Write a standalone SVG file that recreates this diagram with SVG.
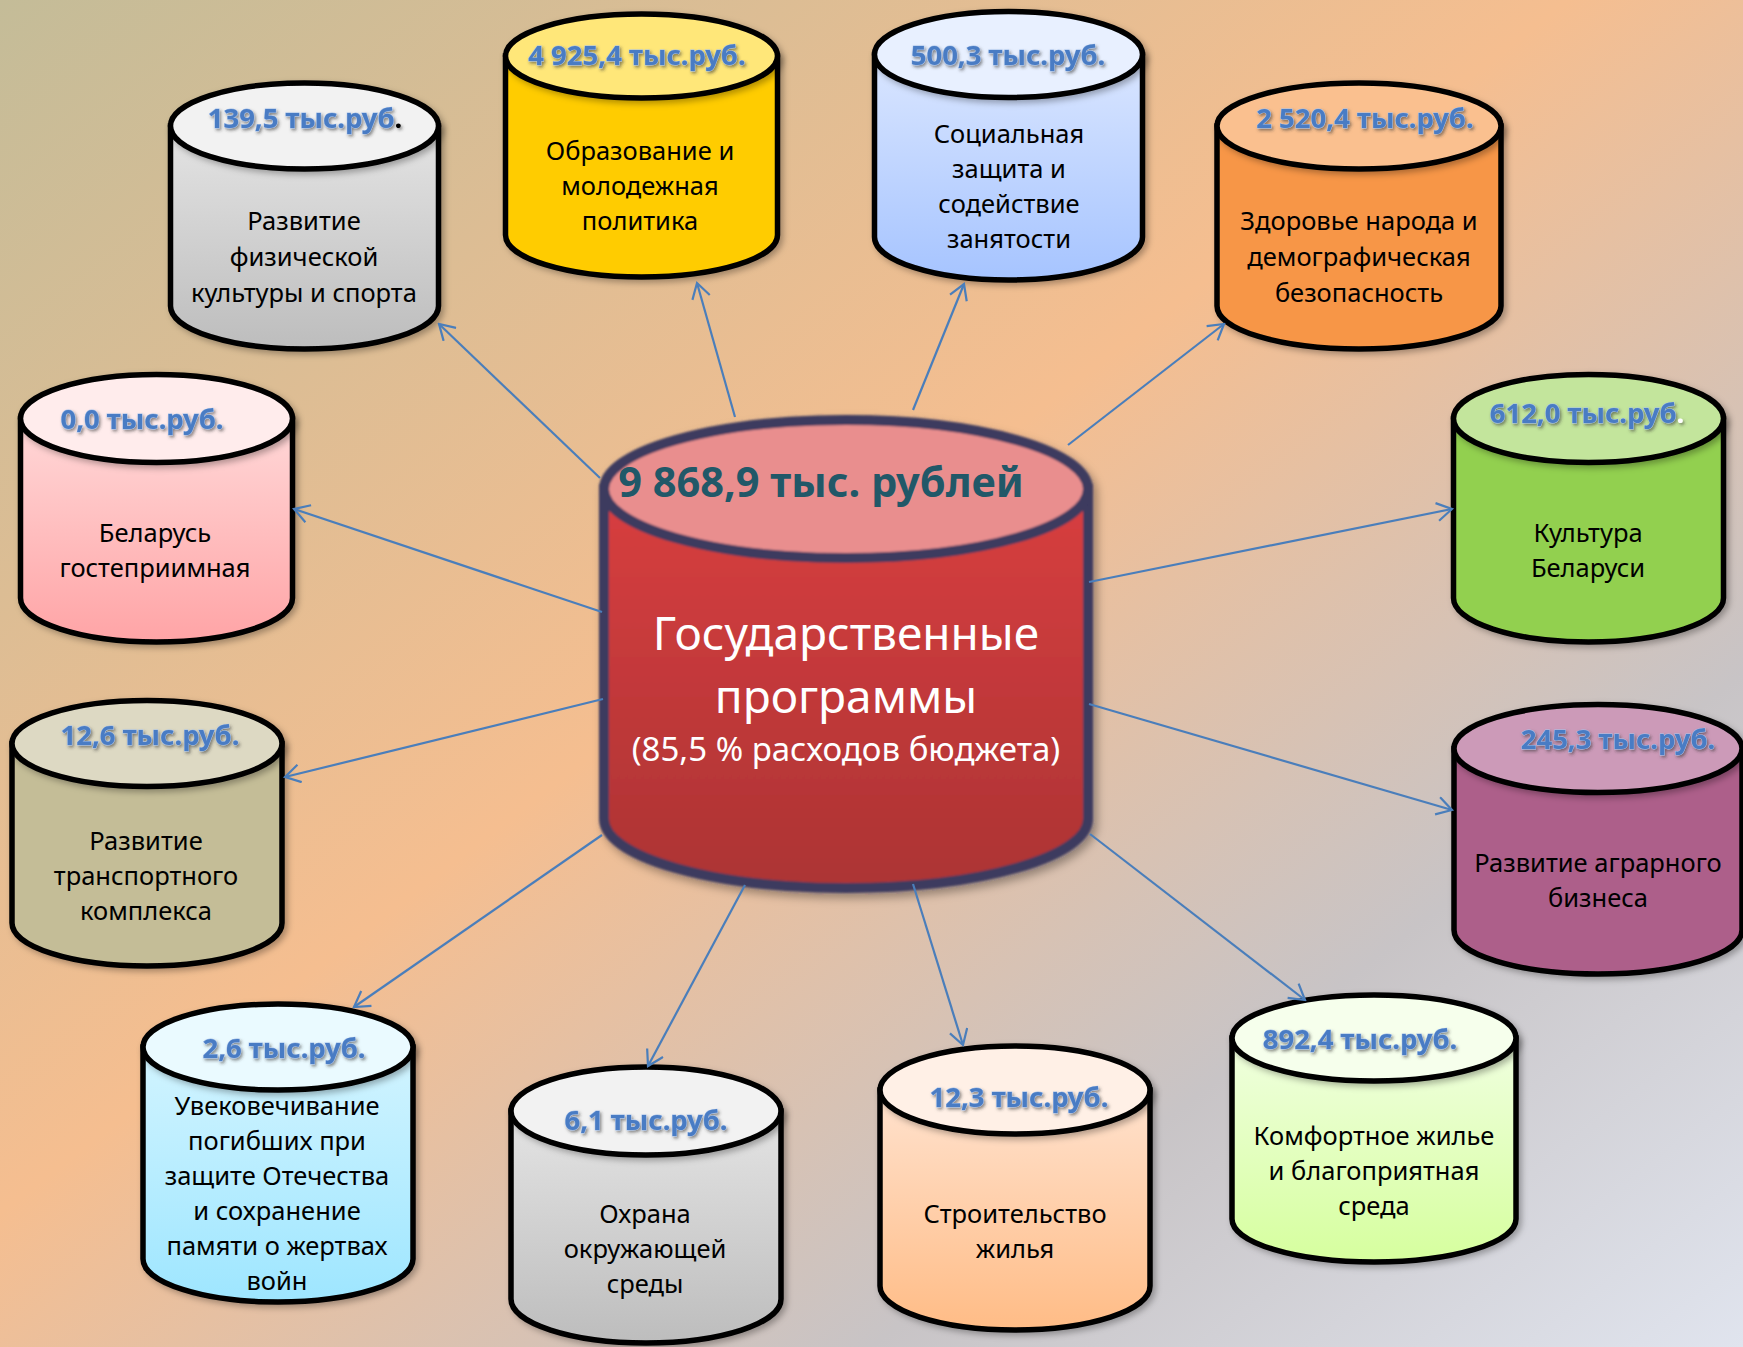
<svg xmlns="http://www.w3.org/2000/svg" width="1743" height="1347" viewBox="0 0 1743 1347">
<defs>
<linearGradient id="bg" x1="0" y1="0" x2="1" y2="1">
<stop offset="0" stop-color="#c4bc98"/>
<stop offset="0.45" stop-color="#f5be90"/>
<stop offset="0.75" stop-color="#c8c4c6"/>
<stop offset="1" stop-color="#e0e4ee"/>
</linearGradient>
<linearGradient id="gGray" x1="0" y1="0" x2="0" y2="1"><stop offset="0" stop-color="#e4e4e4"/><stop offset="1" stop-color="#bdbdbd"/></linearGradient>
<linearGradient id="gBlue" x1="0" y1="0" x2="0" y2="1"><stop offset="0" stop-color="#dae6ff"/><stop offset="1" stop-color="#a6c4ff"/></linearGradient>
<linearGradient id="gPink" x1="0" y1="0" x2="0" y2="1"><stop offset="0" stop-color="#ffd8d8"/><stop offset="1" stop-color="#ffa4a6"/></linearGradient>
<linearGradient id="gCyan" x1="0" y1="0" x2="0" y2="1"><stop offset="0" stop-color="#d2f4ff"/><stop offset="1" stop-color="#9ee6ff"/></linearGradient>
<linearGradient id="gPeach" x1="0" y1="0" x2="0" y2="1"><stop offset="0" stop-color="#ffe2ce"/><stop offset="1" stop-color="#ffbc86"/></linearGradient>
<linearGradient id="gLime" x1="0" y1="0" x2="0" y2="1"><stop offset="0" stop-color="#f0ffe0"/><stop offset="1" stop-color="#d6ff9e"/></linearGradient>
<linearGradient id="gRed" x1="0" y1="0" x2="0" y2="1"><stop offset="0" stop-color="#d83e40"/><stop offset="1" stop-color="#ac3434"/></linearGradient>
<filter id="sh" x="-10%" y="-10%" width="125%" height="125%"><feDropShadow dx="3" dy="3" stdDeviation="3" flood-color="#000" flood-opacity="0.3"/></filter>
<filter id="shc" x="-10%" y="-10%" width="125%" height="125%"><feGaussianBlur in="SourceGraphic" stdDeviation="1.2" result="b"/><feDropShadow in="b" dx="4" dy="5" stdDeviation="5" flood-color="#000" flood-opacity="0.35"/></filter>
<filter id="tsh" x="-10%" y="-30%" width="125%" height="170%"><feDropShadow dx="1.5" dy="2" stdDeviation="1.5" flood-color="#333" flood-opacity="0.55"/></filter>
<marker id="ah" viewBox="0 0 20 20" markerWidth="20" markerHeight="20" refX="18" refY="10" orient="auto" markerUnits="userSpaceOnUse">
<path d="M3,1 L18,10 L3,19" fill="none" stroke="#4a7ebb" stroke-width="2.2"/>
</marker>
</defs>
<style>
.cyl{stroke:#000;stroke-width:5.5;filter:url(#sh)}
.val{font-family:"Noto Sans","DejaVu Sans",sans-serif;font-weight:bold;font-size:27.5px;fill:#4a7cc4;stroke:#a9c4ec;stroke-width:0.8;paint-order:stroke;text-anchor:middle;filter:url(#tsh)}
.lbl{font-family:"Noto Sans","DejaVu Sans",sans-serif;font-size:25.5px;fill:#000;text-anchor:middle}
.con line{stroke:#4a7ebb;stroke-width:2.2;marker-end:url(#ah)}
.main{font-family:"Noto Sans","DejaVu Sans",sans-serif;text-anchor:middle}
</style>
<rect x="0" y="0" width="1743" height="1347" fill="url(#bg)"/>

<g id="center" filter="url(#shc)">
<path d="M604,489 V819 A242,69 0 0 0 1088,819 V489 Z" fill="url(#gRed)" stroke="#3c3a5e" stroke-width="10"/>
<ellipse cx="846" cy="489" rx="242" ry="69" fill="#e98e8e" stroke="#3c3a5e" stroke-width="10"/>
</g>
<g id="center-text" class="main">
<text x="821" y="497" font-size="41.5" font-weight="bold" fill="#215868">9 868,9 тыс. рублей</text>
<text x="846" y="650" font-size="46" fill="#fff">Государственные</text>
<text x="846" y="713" font-size="46" fill="#fff">программы</text>
<text x="846" y="761" font-size="33" fill="#fff">(85,5 % расходов бюджета)</text>
</g>

<g id="n1">
<path class="cyl" d="M170.5,126 V306 A134,43 0 0 0 438.5,306 V126 Z" fill="url(#gGray)"/>
<ellipse class="cyl" cx="304.5" cy="126" rx="134" ry="43" fill="#f2f2f2"/>
<text class="val" x="305" y="128">139,5 тыс.руб<tspan fill="#000" stroke="none">.</tspan></text>
<text class="lbl" x="304" y="230">Развитие</text>
<text class="lbl" x="304" y="266">физической</text>
<text class="lbl" x="304" y="302">культуры и спорта</text>
</g>

<g id="n2">
<path class="cyl" d="M505.5,56 V235 A136,42 0 0 0 777.5,235 V56 Z" fill="#ffcc00"/>
<ellipse class="cyl" cx="641.5" cy="56" rx="136" ry="42" fill="#ffe779"/>
<text class="val" x="637" y="65">4 925,4 тыс.руб.</text>
<text class="lbl" x="640" y="160">Образование и</text>
<text class="lbl" x="640" y="195">молодежная</text>
<text class="lbl" x="640" y="230">политика</text>
</g>

<g id="n3">
<path class="cyl" d="M874.5,54.5 V237 A134,43 0 0 0 1142.5,237 V54.5 Z" fill="url(#gBlue)"/>
<ellipse class="cyl" cx="1008.5" cy="54.5" rx="134" ry="43" fill="#e8f0ff"/>
<text class="val" x="1008" y="65">500,3 тыс.руб.</text>
<text class="lbl" x="1009" y="143">Социальная</text>
<text class="lbl" x="1009" y="178">защита и</text>
<text class="lbl" x="1009" y="213">содействие</text>
<text class="lbl" x="1009" y="248">занятости</text>
</g>

<g id="n4">
<path class="cyl" d="M1217,126 V306 A142,43 0 0 0 1501,306 V126 Z" fill="#f79646"/>
<ellipse class="cyl" cx="1359" cy="126" rx="142" ry="43" fill="#fac08f"/>
<text class="val" x="1365" y="128">2 520,4 тыс.руб.</text>
<text class="lbl" x="1359" y="230">Здоровье народа и</text>
<text class="lbl" x="1359" y="266">демографическая</text>
<text class="lbl" x="1359" y="302">безопасность</text>
</g>

<g id="n5">
<path class="cyl" d="M20.5,418.5 V598 A136,44 0 0 0 292.5,598 V418.5 Z" fill="url(#gPink)"/>
<ellipse class="cyl" cx="156.5" cy="418.5" rx="136" ry="44" fill="#ffecec"/>
<text class="val" x="142" y="429">0,0 тыс.руб.</text>
<text class="lbl" x="155" y="542">Беларусь</text>
<text class="lbl" x="155" y="577">гостеприимная</text>
</g>

<g id="n6">
<path class="cyl" d="M12,743.5 V923 A135,43 0 0 0 282,923 V743.5 Z" fill="#c4bd97"/>
<ellipse class="cyl" cx="147" cy="743.5" rx="135" ry="43" fill="#ddd9c3"/>
<text class="val" x="150" y="745">12,6 тыс.руб.</text>
<text class="lbl" x="146" y="850">Развитие</text>
<text class="lbl" x="146" y="885">транспортного</text>
<text class="lbl" x="146" y="920">комплекса</text>
</g>

<g id="n7">
<path class="cyl" d="M143,1047 V1259 A135,43 0 0 0 413,1259 V1047 Z" fill="url(#gCyan)"/>
<ellipse class="cyl" cx="278" cy="1047" rx="135" ry="43" fill="#eafaff"/>
<text class="val" x="284" y="1058">2,6 тыс.руб.</text>
<text class="lbl" x="277" y="1115">Увековечивание</text>
<text class="lbl" x="277" y="1150">погибших при</text>
<text class="lbl" x="277" y="1185">защите Отечества</text>
<text class="lbl" x="277" y="1220">и сохранение</text>
<text class="lbl" x="277" y="1255">памяти о жертвах</text>
<text class="lbl" x="277" y="1290">войн</text>
</g>

<g id="n8">
<path class="cyl" d="M511,1111 V1299 A135,44 0 0 0 781,1299 V1111 Z" fill="url(#gGray)"/>
<ellipse class="cyl" cx="646" cy="1111" rx="135" ry="44" fill="#f2f2f2"/>
<text class="val" x="646" y="1130">6,1 тыс.руб.</text>
<text class="lbl" x="645" y="1223">Охрана</text>
<text class="lbl" x="645" y="1258">окружающей</text>
<text class="lbl" x="645" y="1293">среды</text>
</g>

<g id="n9">
<path class="cyl" d="M880,1090 V1286 A135,44 0 0 0 1150,1286 V1090 Z" fill="url(#gPeach)"/>
<ellipse class="cyl" cx="1015" cy="1090" rx="135" ry="44" fill="#fff0e6"/>
<text class="val" x="1019" y="1107">12,3 тыс.руб.</text>
<text class="lbl" x="1015" y="1223">Строительство</text>
<text class="lbl" x="1015" y="1258">жилья</text>
</g>

<g id="n10">
<path class="cyl" d="M1232,1038 V1219 A142,43 0 0 0 1516,1219 V1038 Z" fill="url(#gLime)"/>
<ellipse class="cyl" cx="1374" cy="1038" rx="142" ry="43" fill="#f6ffec"/>
<text class="val" x="1360" y="1049">892,4 тыс.руб.</text>
<text class="lbl" x="1374" y="1145">Комфортное жилье</text>
<text class="lbl" x="1374" y="1180">и благоприятная</text>
<text class="lbl" x="1374" y="1215">среда</text>
</g>

<g id="n11">
<path class="cyl" d="M1453.5,418.5 V598 A135,44 0 0 0 1723.5,598 V418.5 Z" fill="#92d050"/>
<ellipse class="cyl" cx="1588.5" cy="418.5" rx="135" ry="44" fill="#c3e59c"/>
<text class="val" x="1587" y="423">612,0 тыс.руб<tspan fill="#fff" stroke="none">.</tspan></text>
<text class="lbl" x="1588" y="542">Культура</text>
<text class="lbl" x="1588" y="577">Беларуси</text>
</g>

<g id="n12">
<path class="cyl" d="M1454,748.5 V930 A144,44 0 0 0 1742,930 V748.5 Z" fill="#ad5f8a"/>
<ellipse class="cyl" cx="1598" cy="748.5" rx="144" ry="44" fill="#cc9ab8"/>
<text class="val" x="1618" y="749">245,3 тыс.руб.</text>
<text class="lbl" x="1598" y="872">Развитие аграрного</text>
<text class="lbl" x="1598" y="907">бизнеса</text>
</g>

<g id="connectors" class="con">
<line x1="600" y1="478" x2="439" y2="324"/>
<line x1="735" y1="417" x2="697" y2="283"/>
<line x1="913" y1="410" x2="964" y2="284"/>
<line x1="1068" y1="445" x2="1224" y2="324"/>
<line x1="602" y1="612" x2="294" y2="509"/>
<line x1="603" y1="699" x2="285" y2="777"/>
<line x1="602" y1="835" x2="354" y2="1007"/>
<line x1="745" y1="885" x2="648" y2="1066"/>
<line x1="913" y1="884" x2="963" y2="1045"/>
<line x1="1090" y1="834" x2="1305" y2="1000"/>
<line x1="1089" y1="582" x2="1452" y2="509"/>
<line x1="1089" y1="704" x2="1452" y2="810"/>
</g>
</svg>
